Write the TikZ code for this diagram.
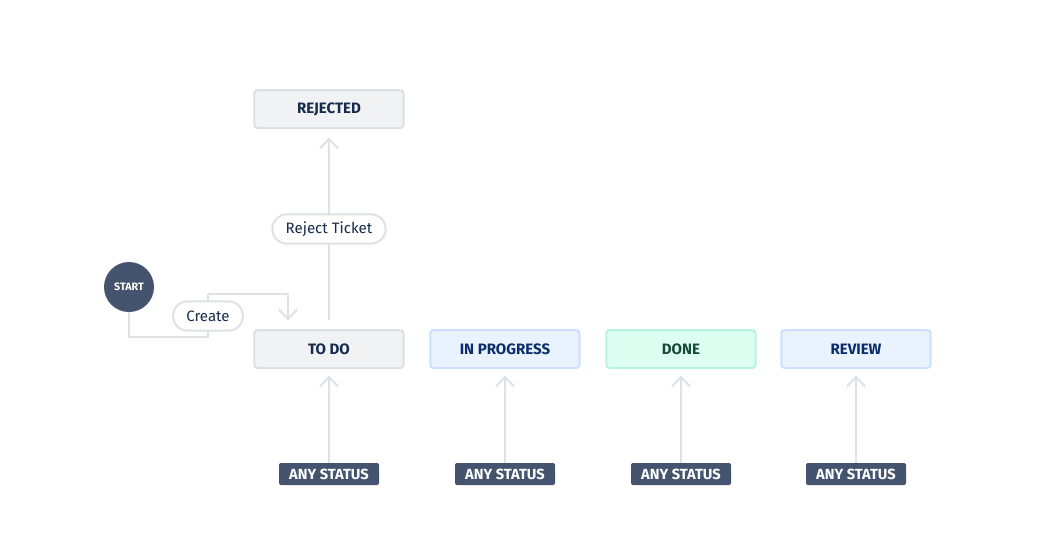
\documentclass[tikz,border=0pt]{standalone}
\usepackage{fontspec}
\setmainfont{Fira Sans}
\usetikzlibrary{arrows.meta}
\definecolor{linec}{HTML}{DFE1E6}
\definecolor{grayfill}{HTML}{F1F2F4}
\definecolor{grayborder}{HTML}{DCDFE4}
\definecolor{bluefill}{HTML}{E9F2FF}
\definecolor{blueborder}{HTML}{CCE0FF}
\definecolor{bluetext}{HTML}{0B2E6B}
\definecolor{greenfill}{HTML}{DCFFF1}
\definecolor{greenborder}{HTML}{BAF3DB}
\definecolor{greentext}{HTML}{164B35}
\definecolor{slate}{HTML}{44546F}
\definecolor{ink}{HTML}{172B4D}
\tikzset{
  statusbox/.style={draw=grayborder, fill=grayfill, line width=1.5pt, rounded corners=2.5pt,
    minimum width=112pt, minimum height=28.5pt, inner sep=0pt, text=ink,
    font=\fontsize{11.3}{13}\selectfont\bfseries},
  bluebox/.style={statusbox, draw=blueborder, fill=bluefill, text=bluetext},
  greenbox/.style={statusbox, draw=greenborder, fill=greenfill, text=greentext},
  anybox/.style={fill=slate, text=white, rounded corners=1.5pt, minimum width=75pt,
    minimum height=16.5pt, inner sep=0pt, font=\fontsize{11}{12}\selectfont\bfseries},
  startnode/.style={circle, fill=slate, text=white, minimum size=37.5pt, inner sep=0pt,
    font=\fontsize{8}{9}\selectfont\bfseries},
  pill/.style={draw=linec, fill=white, line width=1.5pt, rounded corners=11pt,
    minimum height=22pt, inner xsep=10pt, inner ysep=0pt, text=ink,
    font=\fontsize{11.3}{13}\selectfont},
  conn/.style={draw=linec, line width=1.5pt},
  arr/.style={conn, -{Straight Barb[length=7pt,width=13.5pt,line width=1.5pt]}},
}
\begin{document}
\begin{tikzpicture}[x=0.75pt,y=-0.75pt]
\useasboundingbox[fill=white] (0,0) rectangle (1040,544);
% status boxes
\node[statusbox] (rejected) at (329,109) {REJECTED};
\node[statusbox] (todo) at (329,349) {TO DO};
\node[bluebox] (inprog) at (505,349) {IN PROGRESS};
\node[greenbox] (done) at (681,349) {DONE};
\node[bluebox] (review) at (856,349) {REVIEW};
% any status
\node[anybox] (any1) at (329,474) {ANY STATUS};
\node[anybox] (any2) at (505,474) {ANY STATUS};
\node[anybox] (any3) at (681,474) {ANY STATUS};
\node[anybox] (any4) at (856,474) {ANY STATUS};
% start
\node[startnode] (start) at (129,287) {START};
% connectors from any status
\draw[arr, shorten >=5pt] (any1) -- (todo);
\draw[arr, shorten >=5pt] (any2) -- (inprog);
\draw[arr, shorten >=5pt] (any3) -- (done);
\draw[arr, shorten >=5pt] (any4) -- (review);
% reject
\draw[arr, shorten <=7pt, shorten >=6.5pt] (todo) -- (rejected)
  node[pill, pos=0.5] (reject) {Reject Ticket};
% create
\coordinate (c1) at (208,337);
\coordinate (c2) at (208,294);
\coordinate (c3) at (288,294);
\coordinate (c4) at (288,329);
\draw[conn] (start.south) |- (c1) -- (c2);
\draw[arr, shorten >=6.5pt] (c2) -- (c3) -- (c4);
\node[pill] (create) at (208,316) {Create};
\end{tikzpicture}
\end{document}
